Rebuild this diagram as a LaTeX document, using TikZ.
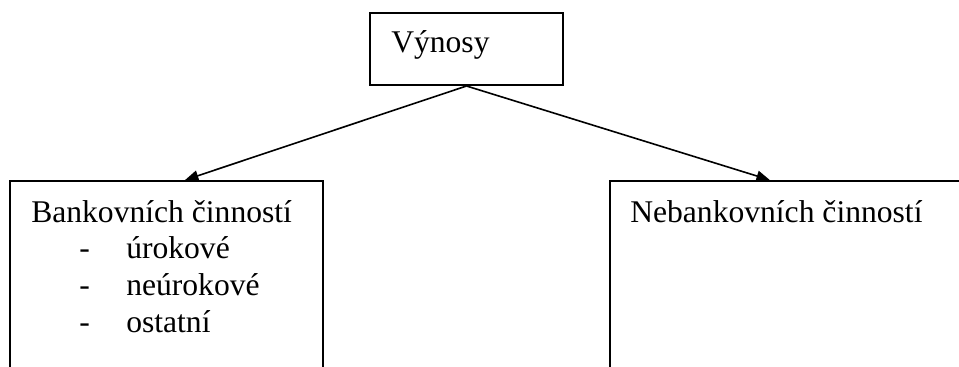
\documentclass[tikz,border=0pt]{standalone}
\usepackage{fontspec}
\setmainfont{Liberation Serif}
\usetikzlibrary{arrows.meta,fit,calc}
\begin{document}
\begin{tikzpicture}[
    x=0.75pt, y=-0.75pt,
    box/.style={draw, line width=1.5pt, inner sep=0pt},
    label/.style={anchor=base west, inner sep=0pt, font=\fontsize{23.7pt}{28pt}\selectfont},
    link/.style={line width=1.2pt, -{Triangle[length=10pt,width=8pt]}}
  ]
  \useasboundingbox (0,0) rectangle (959,367);
  \clip (0,0) rectangle (959,367);

  % boxes (the lower ones run past the page edge)
  \node[box, fit={(370,13) (563,85)}] (top) {};
  \node[box, fit={(10,181) (323,420)}] (bank) {};
  \node[box, fit={(610,181) (1010,420)}] (nonbank) {};

  % texts
  \node[label] (tTop) at (391,53) {Výnosy};
  \node[label] (tBank) at (31,222) {Bankovních činností};
  \node[label] (d1) at (79,258) {-};
  \node[label] (i1) at (126,258) {úrokové};
  \node[label] (d2) at (79,295) {-};
  \node[label] (i2) at (126,295) {neúrokové};
  \node[label] (d3) at (79,332) {-};
  \node[label] (i3) at (126,332) {ostatní};
  \node[label] (tNon) at (630,222) {Nebankovních činností};

  % connectors
  \draw[link] (top.south) -- ($(bank.north west)!0.559!(bank.north east)$);
  \draw[link] (top.south) -- ($(nonbank.north west)!0.4!(nonbank.north east)$);
\end{tikzpicture}
\end{document}
